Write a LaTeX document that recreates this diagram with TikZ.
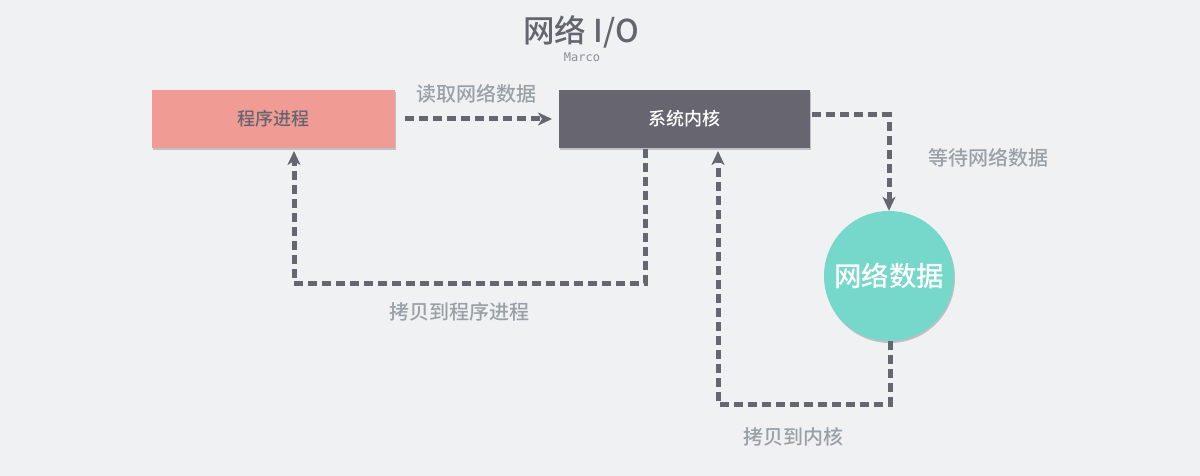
\documentclass[tikz,border=0pt]{standalone}
\usepackage{fontspec}
\setmainfont{Noto Sans CJK SC}
\setmonofont{DejaVu Sans Mono}
\newfontfamily\med{Noto Sans CJK SC}[UprightFont={* Medium}]
\usetikzlibrary{arrows.meta,shadows}
\definecolor{bg}{HTML}{F0F1F3}
\definecolor{dark}{HTML}{67656F}
\definecolor{salmon}{HTML}{F09B94}
\definecolor{teal}{HTML}{76D7CB}
\definecolor{lbl}{HTML}{99A0A6}
\definecolor{ttl}{HTML}{66646E}
\tikzset{
  box/.style={rectangle, minimum width=#1, minimum height=58pt, inner sep=0pt,
    drop shadow={shadow xshift=1pt, shadow yshift=-2pt, opacity=0.2, fill=black}},
  flow/.style={draw=dark, line width=5pt, dash pattern=on 9pt off 5pt,
    -{Stealth[length=14pt,width=13pt,inset=4pt]}},
  lab/.style={text=lbl, font=\med\fontsize{20}{22}\selectfont},
}
\begin{document}
\begin{tikzpicture}[x=1pt,y=-1pt]
\fill[bg] (0,0) rectangle (1200,476);
\useasboundingbox (0,0) rectangle (1200,476);
\node[text=ttl, font=\med\fontsize{31.5}{33}\selectfont] (title) at (581,32) {网络 I/O};
\node[text=lbl!90!black, font=\ttfamily\fontsize{12}{13}\selectfont] (author) at (582,57) {Marco};
\node[box=243pt, fill=salmon, text=ttl, font=\med\fontsize{18}{20}\selectfont] (proc) at (273.5,119) {程序进程};
\node[box=251pt, fill=dark, text=white, font=\med\fontsize{18}{20}\selectfont] (kern) at (684.5,119) {系统内核};
\node[circle, minimum size=130pt, inner sep=0pt, fill=teal, text=white,
  font=\med\fontsize{27.5}{29}\selectfont,
  drop shadow={shadow xshift=1pt, shadow yshift=-2pt, opacity=0.2, fill=black}] (net) at (889,276) {网络数据};
% read
\coordinate (r0) at (405,119);
\coordinate (r1) at (552,119);
\draw[flow] (r0) -- (r1);
\node[lab] (l1) at (476,94) {读取网络数据};
% wait
\coordinate (w0) at (812,115);
\draw[flow] (w0) -| (net.north);
\node[lab] (l2) at (988,158) {等待网络数据};
% copy to kernel
\coordinate (k0) at (890,341);
\coordinate (k1) at (890,404);
\coordinate (k2) at (718,404);
\coordinate (k3) at (718,151);
\draw[flow] (k0) -- (k1) -- (k2) -- (k3);
\node[lab] (l3) at (793,437) {拷贝到内核};
% copy to process
\coordinate (p0) at (645,149);
\coordinate (p1) at (645,283);
\coordinate (p2) at (294,283);
\coordinate (p3) at (294,151);
\draw[flow] (p0) -- (p1) -- (p2) -- (p3);
\node[lab] (l4) at (459,312) {拷贝到程序进程};
\end{tikzpicture}
\end{document}
